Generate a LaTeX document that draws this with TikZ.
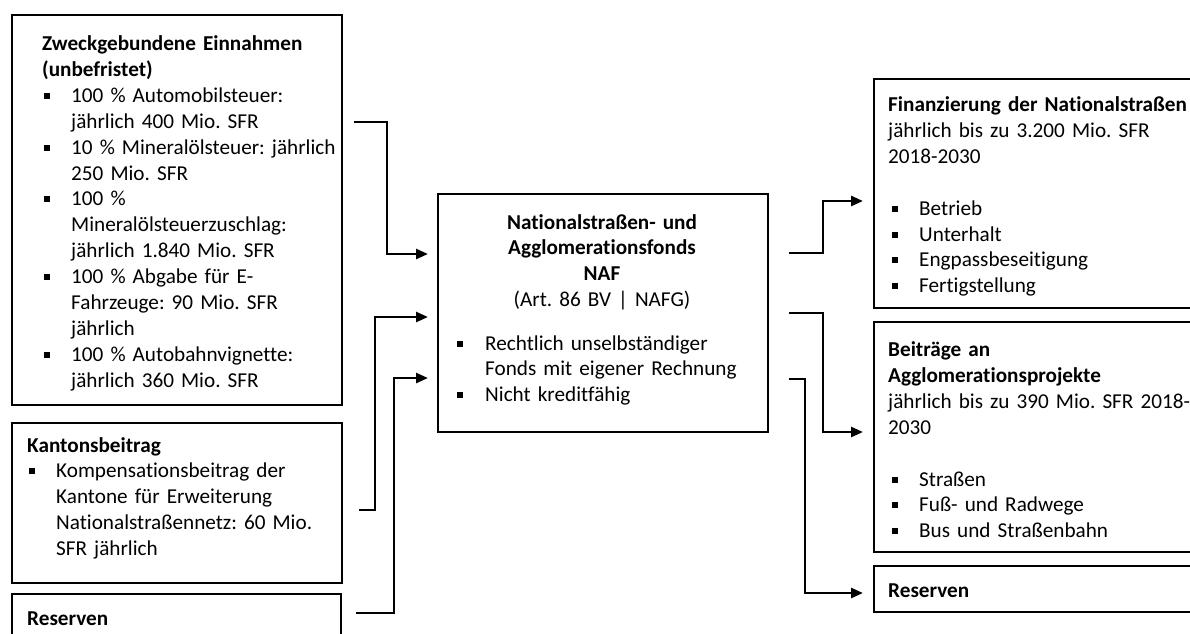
\documentclass[tikz,border=0pt]{standalone}
\usepackage{fontspec}
\setmainfont{Carlito}[Ligatures=NoCommon]
\usetikzlibrary{arrows.meta,calc}
\frenchspacing

% square bullet with hanging indent; \bulind and \bulpre set per block
\newlength\bulind \setlength\bulind{29pt}
\newlength\bulpre \setlength\bulpre{1.5pt}
\newcommand\bulmark{\makebox[\bulind][l]{\hspace{\bulpre}\rule[3.5pt]{6pt}{6pt}}}
% first item of a block (no paragraph break before it)
\newcommand\blfirst{\hangindent=\bulind\hangafter=1\bulmark}
% following items
\newcommand\bl{\par\hangindent=\bulind\hangafter=1\noindent\bulmark}

\begin{document}
\begin{tikzpicture}[x=1pt,y=-1pt,
  box/.style={draw, line width=1.8pt, anchor=north west, inner sep=0pt},
  txt/.style={anchor=base west, inner sep=0pt, text width=420pt, align=left,
    font=\fontsize{21.2pt}{25.9pt}\selectfont},
  ctxt/.style={anchor=base, inner sep=0pt, text width=330pt, align=center,
    font=\fontsize{21.2pt}{25.9pt}\selectfont},
  conn/.style={line width=2.6pt, -{Triangle[length=12pt,width=10pt]}}]

\useasboundingbox (0,0) rectangle (1190,633);
\clip (0,0) rectangle (1190,633);

% ---------- sources ----------
\node[box, minimum width=330pt, minimum height=390pt] (b1) at (11,14) {};
\node[txt] (t1) at (42,50.5) {%
\textbf{Zweckgebundene Einnahmen}\newline\textbf{(unbefristet)}
\bl 100~\% Automobilsteuer:\newline jährlich 400 Mio. SFR
\bl 10~\% Mineralölsteuer: jährlich\newline 250 Mio. SFR
\bl 100~\%\newline Mineralölsteuerzuschlag:\newline jährlich 1.840 Mio. SFR
\bl 100~\% Abgabe für E-\newline Fahrzeuge: 90 Mio. SFR\newline jährlich
\bl 100~\% Autobahnvignette:\newline jährlich 360 Mio. SFR\par};

\node[box, minimum width=330pt, minimum height=160pt] (b2) at (11,422) {};
\node[txt] (t2) at (27,452) {%
\textbf{Kantonsbeitrag}
\bl Kompensationsbeitrag der\newline Kantone für Erweiterung\newline
Nationalstraßennetz: 60 Mio.\newline SFR jährlich\par};

\node[box, minimum width=329pt, minimum height=80pt] (b3) at (11,593) {};
\node[txt] (t3) at (27,625) {\textbf{Reserven}};

% ---------- fund ----------
\node[box, minimum width=330pt, minimum height=238pt] (c) at (437,193) {};
\node[ctxt] (ch) at (602,229) {%
\textbf{Nationalstraßen- und}\\\textbf{Agglomerationsfonds}\\\textbf{NAF}\\(Art.~86 BV | NAFG)};
\node[txt] (cb) at (456,350) {%
\setlength\bulind{29pt}\setlength\bulpre{1pt}%
\blfirst Rechtlich unselbständiger\newline Fonds mit eigener Rechnung
\bl Nicht kreditfähig\par};

% ---------- uses ----------
\node[box, minimum width=340pt, minimum height=229pt] (f) at (873,78) {};
\node[txt] (tf) at (888,111.5) {%
\setlength\bulind{31pt}\setlength\bulpre{4pt}%
\textbf{Finanzierung der Nationalstraßen}\newline
jährlich bis zu 3.200 Mio. SFR\newline 2018-2030\par\vspace{25.9pt}
\bl Betrieb \bl Unterhalt \bl Engpassbeseitigung \bl Fertigstellung\par};

\node[box, minimum width=340pt, minimum height=230pt] (a) at (873,321) {};
\node[txt] (ta) at (888,356.5) {%
\setlength\bulind{31pt}\setlength\bulpre{4pt}%
\textbf{Beiträge an}\newline\textbf{Agglomerationsprojekte}\newline
jährlich bis zu 390 Mio. SFR 2018-\newline 2030\par\vspace{25.9pt}
\bl Straßen \bl Fuß- und Radwege \bl Bus und Straßenbahn\par};

\node[box, minimum width=340pt, minimum height=46pt] (r) at (873,565) {};
\node[txt] (tr) at (888,597.5) {\textbf{Reserven}};

% ---------- inflows ----------
\draw[conn, shorten <=11pt, shorten >=9pt]
  (b1.east |- 0,122) -| (387,254) -- (c.west |- 0,254);
\draw[conn, shorten <=16pt, shorten >=9pt]
  (b2.east |- 0,510) -| (375,317) -- (c.west |- 0,317);
\draw[conn, shorten <=14pt, shorten >=9pt]
  (b3.east |- 0,613) -| (394,378) -- (c.west |- 0,378);

% ---------- outflows ----------
\draw[conn, shorten <=20pt, shorten >=10pt]
  (c.east |- 0,253) -| (823,201) -- (f.west |- 0,201);
\draw[conn, shorten <=20pt, shorten >=10pt]
  (c.east |- 0,313) -| (823,432) -- (a.west |- 0,432);
\draw[conn, shorten <=20pt, shorten >=10pt]
  (c.east |- 0,379) -| (805,593) -- (r.west |- 0,593);
\end{tikzpicture}
\end{document}
